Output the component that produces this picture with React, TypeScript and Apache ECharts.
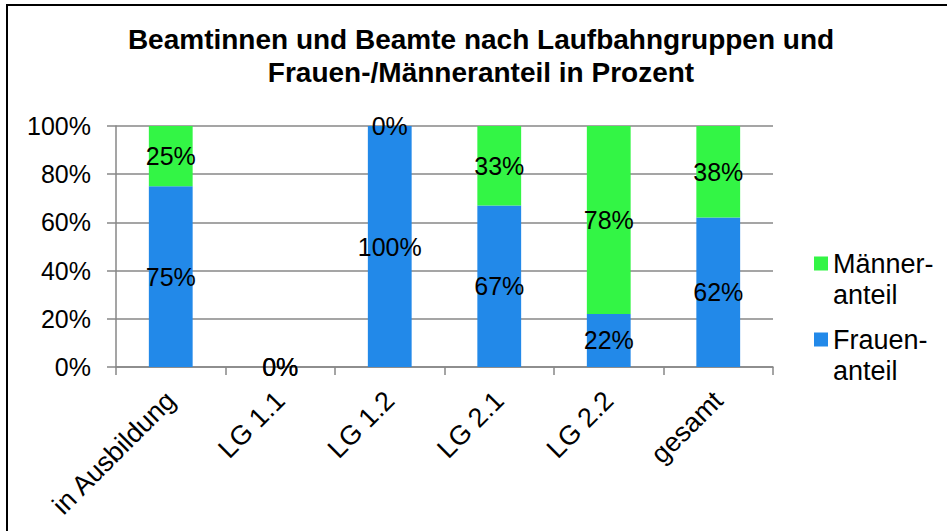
import React, { useEffect, useRef } from "react";
import * as echarts from "echarts";

const categories = ["in Ausbildung", "LG 1.1", "LG 1.2", "LG 2.1", "LG 2.2", "gesamt"];
const frauenanteil = [75, 0, 100, 67, 22, 62];
const maenneranteil = [25, 0, 0, 33, 78, 38];
const yTicks = { min: 0, max: 100, interval: 20 };
const titleText = "Beamtinnen und Beamte nach Laufbahngruppen und\nFrauen-/Männeranteil in Prozent";
const seriesNames = ["Frauenanteil", "Männeranteil"];
const legendLabels: Record<string, string> = {
  "Männeranteil": "Männer-\nanteil",
  "Frauenanteil": "Frauen-\nanteil",
};

const FONT = "'Liberation Sans', Arial, sans-serif";
const BLUE = "#2289E9";
const GREEN = "#33F545";
const GRIDC = "#878787";
// square icon at top with an invisible zero-area segment to extend bounding box
const ICON = "path://M0,0H14V14H0Z M0,45L14,45";

export default function App() {
  const ref = useRef<HTMLDivElement>(null);
  useEffect(() => {
    if (!ref.current) return;
    const chart = echarts.init(ref.current, null, { renderer: "svg" });
    chart.setOption({
      animation: false,
      backgroundColor: "#ffffff",
      title: {
        text: titleText,
        left: 481,
        top: 23,
        padding: 0,
        textAlign: "center",
        textStyle: {
          fontFamily: FONT,
          fontSize: 28,
          fontWeight: "bold",
          color: "#000",
          lineHeight: 33,
        },
      },
      graphic: [
        {
          type: "rect",
          shape: { x: 7, y: 5, width: 980, height: 600 },
          style: { fill: "none", stroke: "#000", lineWidth: 2 },
          silent: true,
          z: 100,
        },
      ],
      legend: {
        orient: "vertical",
        left: 814,
        top: 248,
        padding: 0,
        itemGap: 14,
        itemWidth: 14,
        itemHeight: 45,
        icon: ICON,
        data: [seriesNames[1], seriesNames[0]],
        formatter: (name: string) => legendLabels[name] ?? name,
        textStyle: {
          fontFamily: FONT,
          fontSize: 27,
          color: "#000",
          lineHeight: 31,
        },
      },
      grid: {
        left: 116,
        right: 174,
        top: 126,
        bottom: 164,
        outerBoundsMode: "none",
        containLabel: false,
      },
      xAxis: {
        type: "category",
        data: categories,
        axisLine: { show: true, lineStyle: { color: GRIDC, width: 1.5 } },
        axisTick: { show: true, alignWithLabel: false, length: 8, lineStyle: { color: GRIDC, width: 1.5 } },
        axisLabel: {
          rotate: 45,
          margin: 29,
          interval: 0,
          fontFamily: FONT,
          fontSize: 27,
          color: "#000",
        },
      },
      yAxis: {
        type: "value",
        min: yTicks.min,
        max: yTicks.max,
        interval: yTicks.interval,
        axisLine: { show: true, lineStyle: { color: GRIDC, width: 1.5 } },
        axisTick: { show: true, length: 9, lineStyle: { color: GRIDC, width: 1.5 } },
        splitLine: { show: true, lineStyle: { color: GRIDC, width: 1.5 } },
        axisLabel: {
          formatter: "{value}%",
          margin: 25,
          fontFamily: FONT,
          fontSize: 25,
          color: "#000",
        },
      },
      series: [
        {
          name: seriesNames[0],
          type: "bar",
          stack: "total",
          barWidth: "40%",
          data: frauenanteil,
          itemStyle: { color: BLUE },
          label: {
            show: true,
            position: "inside",
            formatter: "{c}%",
            fontFamily: FONT,
            fontSize: 25,
            color: "#000",
          },
        },
        {
          name: seriesNames[1],
          type: "bar",
          stack: "total",
          barWidth: "40%",
          data: maenneranteil,
          itemStyle: { color: GREEN },
          label: {
            show: true,
            position: "inside",
            formatter: "{c}%",
            fontFamily: FONT,
            fontSize: 25,
            color: "#000",
          },
        },
      ],
    });
    return () => chart.dispose();
  }, []);
  return (
    <div
      ref={ref}
      style={{ position: "absolute", left: 0, top: 0, width: 947, height: 531 }}
    />
  );
}
